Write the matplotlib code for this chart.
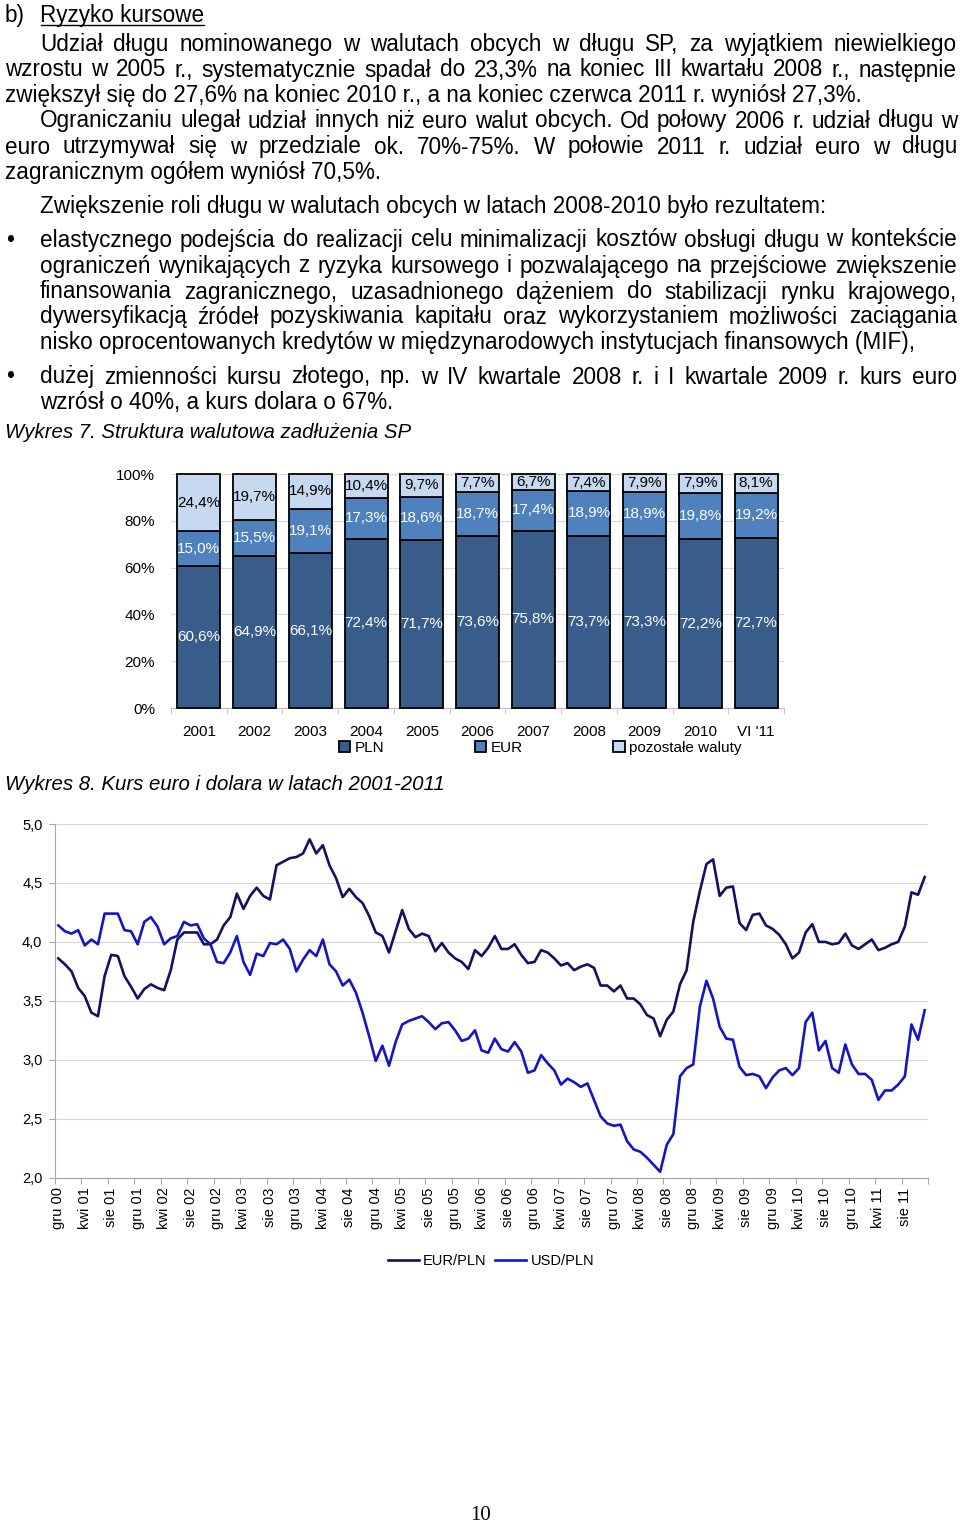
import matplotlib
matplotlib.use('Agg')
import matplotlib.pyplot as plt
from matplotlib.lines import Line2D
import numpy as np

# ---------------- DATA ----------------
heading_label = "b)"
heading_title = "Ryzyko kursowe"
body_lines = [
    "Udział długu nominowanego w walutach obcych w długu SP, za wyjątkiem niewielkiego",
    "wzrostu w 2005 r., systematycznie spadał do 23,3% na koniec III kwartału 2008 r., następnie",
    "zwiększył się do 27,6% na koniec 2010 r., a na koniec czerwca 2011 r. wyniósł 27,3%.",
    "Ograniczaniu ulegał udział innych niż euro walut obcych. Od połowy 2006 r. udział długu w",
    "euro utrzymywał się w przedziale ok. 70%-75%. W połowie 2011 r. udział euro w długu",
    "zagranicznym ogółem wyniósł 70,5%.",
    "Zwiększenie roli długu w walutach obcych w latach 2008-2010 było rezultatem:",
    "elastycznego podejścia do realizacji celu minimalizacji kosztów obsługi długu w kontekście",
    "ograniczeń wynikających z ryzyka kursowego i pozwalającego na przejściowe zwiększenie",
    "finansowania zagranicznego, uzasadnionego dążeniem do stabilizacji rynku krajowego,",
    "dywersyfikacją źródeł pozyskiwania kapitału oraz wykorzystaniem możliwości zaciągania",
    "nisko oprocentowanych kredytów w międzynarodowych instytucjach finansowych (MIF),",
    "dużej zmienności kursu złotego, np. w IV kwartale 2008 r. i I kwartale 2009 r. kurs euro",
    "wzrósł o 40%, a kurs dolara o 67%.",
]
caption7 = "Wykres 7. Struktura walutowa zadłużenia SP"
caption8 = "Wykres 8. Kurs euro i dolara w latach 2001-2011"
page_number = "10"

years = ["2001", "2002", "2003", "2004", "2005", "2006", "2007", "2008", "2009", "2010", "VI '11"]
pln = [60.6, 64.9, 66.1, 72.4, 71.7, 73.6, 75.8, 73.7, 73.3, 72.2, 72.7]
eur_share = [15.0, 15.5, 19.1, 17.3, 18.6, 18.7, 17.4, 18.9, 18.9, 19.8, 19.2]
other_share = [24.4, 19.7, 14.9, 10.4, 9.7, 7.7, 6.7, 7.4, 7.9, 7.9, 8.1]
bar_series_names = ["PLN", "EUR", "pozostałe waluty"]

eurpln = [3.86, 3.81, 3.75, 3.61, 3.54, 3.40, 3.37, 3.71, 3.89, 3.88,
          3.71, 3.62, 3.52, 3.60, 3.64, 3.61, 3.59, 3.76, 4.02, 4.08,
          4.08, 4.08, 3.98, 3.98, 4.02, 4.14, 4.21, 4.41, 4.28, 4.39,
          4.46, 4.39, 4.36, 4.65, 4.68, 4.71, 4.72, 4.75, 4.87, 4.75,
          4.82, 4.65, 4.54, 4.38, 4.45, 4.38, 4.33, 4.22, 4.08, 4.05,
          3.91, 4.09, 4.27, 4.11, 4.04, 4.07, 4.05, 3.92, 3.99, 3.91,
          3.86, 3.83, 3.77, 3.93, 3.88, 3.95, 4.05, 3.94, 3.94, 3.98,
          3.89, 3.82, 3.83, 3.93, 3.91, 3.86, 3.80, 3.82, 3.76, 3.79,
          3.81, 3.78, 3.63, 3.63, 3.58, 3.63, 3.52, 3.52, 3.47, 3.38,
          3.35, 3.20, 3.34, 3.41, 3.64, 3.76, 4.17, 4.43, 4.66, 4.70,
          4.39, 4.46, 4.47, 4.16, 4.10, 4.23, 4.24, 4.14, 4.11, 4.06,
          3.98, 3.86, 3.91, 4.08, 4.15, 4.00, 4.00, 3.98, 3.99, 4.07,
          3.97, 3.94, 3.98, 4.02, 3.93, 3.95, 3.98, 4.00, 4.13, 4.42,
          4.40, 4.55]
usdpln = [4.14, 4.09, 4.07, 4.10, 3.97, 4.02, 3.98, 4.24, 4.24, 4.24,
          4.10, 4.09, 3.98, 4.17, 4.21, 4.13, 3.98, 4.03, 4.05, 4.17,
          4.14, 4.15, 4.03, 3.98, 3.83, 3.82, 3.91, 4.05, 3.83, 3.72,
          3.90, 3.88, 3.99, 3.98, 4.02, 3.94, 3.75, 3.85, 3.93, 3.88,
          4.02, 3.81, 3.75, 3.63, 3.68, 3.57, 3.40, 3.20, 2.99, 3.12,
          2.95, 3.15, 3.30, 3.33, 3.35, 3.37, 3.32, 3.26, 3.31, 3.32,
          3.25, 3.16, 3.18, 3.25, 3.08, 3.06, 3.18, 3.09, 3.07, 3.15,
          3.07, 2.89, 2.91, 3.04, 2.97, 2.91, 2.79, 2.84, 2.81, 2.77,
          2.80, 2.66, 2.52, 2.46, 2.44, 2.45, 2.31, 2.24, 2.22, 2.17,
          2.11, 2.05, 2.28, 2.37, 2.86, 2.93, 2.96, 3.45, 3.67, 3.52,
          3.28, 3.18, 3.17, 2.94, 2.87, 2.88, 2.86, 2.76, 2.85, 2.91,
          2.93, 2.87, 2.93, 3.32, 3.40, 3.08, 3.16, 2.93, 2.89, 3.13,
          2.96, 2.88, 2.88, 2.83, 2.66, 2.74, 2.74, 2.79, 2.86, 3.30,
          3.17, 3.42]
month_labels = ["gru 00", "kwi 01", "sie 01", "gru 01", "kwi 02", "sie 02", "gru 02",
                "kwi 03", "sie 03", "gru 03", "kwi 04", "sie 04", "gru 04", "kwi 05",
                "sie 05", "gru 05", "kwi 06", "sie 06", "gru 06", "kwi 07", "sie 07",
                "gru 07", "kwi 08", "sie 08", "gru 08", "kwi 09", "sie 09", "gru 09",
                "kwi 10", "sie 10", "gru 10", "kwi 11", "sie 11"]
line_series_names = ["EUR/PLN", "USD/PLN"]

# ---------------- LAYOUT ----------------
W, H = 960, 1524
BODY = ['Liberation Sans', 'DejaVu Sans']
plt.rcParams['font.family'] = BODY

fig = plt.figure(figsize=(W / 100, H / 100), dpi=100)
fig.patch.set_facecolor('white')
renderer = fig.canvas.get_renderer()


def fx(x):
    return x / W


def fy(y):
    return 1 - y / H


def width_px(s, size, style='normal'):
    t = fig.text(0, 0, s, fontsize=size, style=style)
    w = t.get_window_extent(renderer).width
    t.remove()
    return w


# body font size fitted to the left-aligned line width
BODY_SIZE = 15 * 857 / width_px(body_lines[2], 15)
CAP_SIZE = BODY_SIZE * 0.906

# (x start, baseline, justify)
line_layout = [
    (40, 51, True), (5, 76.5, True), (5, 102, False),
    (40, 127.5, True), (5, 153.5, True), (5, 179, False),
    (40, 212.5, False),
    (40, 246.5, True), (40, 272.5, True), (40, 298.5, True), (40, 323.5, True), (40, 349.5, False),
    (40, 383.5, True), (40, 408.5, False),
]
bullet_rows = [246.5, 383.5]
RIGHT = 957


def put_line(s, x0, yb, size, justify, style='normal'):
    if not justify:
        fig.text(fx(x0), fy(yb), s, fontsize=size, style=style, va='baseline', ha='left')
        return
    words = s.split()
    ws = [width_px(w, size, style) for w in words]
    gap = (RIGHT - x0 - sum(ws)) / (len(words) - 1)
    x = x0
    for w, wd in zip(words, ws):
        fig.text(fx(x), fy(yb), w, fontsize=size, style=style, va='baseline', ha='left')
        x += wd + gap


# heading
fig.text(fx(5), fy(22), heading_label, fontsize=BODY_SIZE, va='baseline', ha='left')
fig.text(fx(40), fy(22), heading_title, fontsize=BODY_SIZE, va='baseline', ha='left')
tw = width_px(heading_title, BODY_SIZE)
fig.add_artist(Line2D([fx(41), fx(40 + tw)], [fy(25), fy(25)], color='black', lw=1.0))

for s, (x0, yb, just) in zip(body_lines, line_layout):
    put_line(s, x0, yb, BODY_SIZE, just)
for yb in bullet_rows:
    fig.text(fx(10), fy(yb), "\u2022", fontsize=BODY_SIZE, va='baseline', ha='center')

fig.text(fx(5), fy(438), caption7, fontsize=CAP_SIZE, style='italic', va='baseline', ha='left')
fig.text(fx(5), fy(790), caption8, fontsize=CAP_SIZE, style='italic', va='baseline', ha='left')
fig.text(fx(481), fy(1515), page_number, fontsize=15, family=['Liberation Serif', 'DejaVu Serif'],
         va='center', ha='center')

# ---------------- BAR CHART ----------------
C_PLN, C_EUR, C_OTH = '#385D8A', '#4F81BD', '#C6D9F1'
CH_FS = 11
ax1 = fig.add_axes([fx(171), fy(708), (784 - 171) / W, (708 - 474) / H])
xb = np.arange(len(years))
bw = 0.77
pln_a = np.array(pln)
eur_a = np.array(eur_share)
oth_a = np.array(other_share)
b1 = ax1.bar(xb, pln_a, bw, color=C_PLN, edgecolor='black', lw=1.3, label=bar_series_names[0], clip_on=False, zorder=3)
b2 = ax1.bar(xb, eur_a, bw, bottom=pln_a, color=C_EUR, edgecolor='black', lw=1.3, label=bar_series_names[1], clip_on=False, zorder=3)
b3 = ax1.bar(xb, oth_a, bw, bottom=pln_a + eur_a, color=C_OTH, edgecolor='black', lw=1.3, label=bar_series_names[2], clip_on=False, zorder=3)


def pct(v):
    return f"{v:.1f}".replace('.', ',') + '%'


for bars, vals, col in ((b1, pln, 'white'), (b2, eur_share, 'white'), (b3, other_share, 'black')):
    ax1.bar_label(bars, labels=[pct(v) for v in vals], label_type='center', color=col,
                  fontsize=CH_FS, zorder=4)

ax1.set_xlim(-0.5, len(years) - 0.5)
ax1.set_ylim(0, 100)
ax1.set_yticks(np.arange(0, 101, 20))
ax1.set_yticklabels([f"{v}%" for v in range(0, 101, 20)], fontsize=CH_FS)
ax1.set_xticks(xb)
ax1.set_xticklabels(years, fontsize=CH_FS)
ax1.set_xticks(np.arange(-0.5, len(years), 1), minor=True)
ax1.tick_params(axis='x', which='major', length=0, pad=12)
ax1.tick_params(axis='x', which='minor', length=4, color='#BFBFBF')
ax1.tick_params(axis='y', length=0, pad=11.5)
ax1.yaxis.grid(True, color='#D9D9D9', lw=0.9)
ax1.set_axisbelow(True)
for sp in ('top', 'right', 'left'):
    ax1.spines[sp].set_visible(False)
ax1.spines['bottom'].set_color('#BFBFBF')
ax1.set_facecolor('white')

fig.legend(handles=[b1, b2, b3], labels=bar_series_names, loc='center left',
           bbox_to_anchor=(fx(339), fy(748)), ncol=3, frameon=False,
           prop={'size': CH_FS}, handlelength=0.75, handleheight=0.75,
           handletextpad=0.3, columnspacing=5.9, borderpad=0, borderaxespad=0)

# ---------------- LINE CHART ----------------
ax2 = fig.add_axes([fx(55), fy(1177.7), (928 - 55) / W, (1177.7 - 824) / H])
xi = np.arange(len(eurpln))
l1, = ax2.plot(xi, eurpln, color='#12125E', lw=1.9, label=line_series_names[0])
l2, = ax2.plot(xi, usdpln, color='#1515C4', lw=1.9, label=line_series_names[1])
ax2.set_xlim(-0.5, len(eurpln) - 0.5)
ax2.set_ylim(2, 5)
yt = np.arange(2.0, 5.01, 0.5)
ax2.set_yticks(yt)
ax2.set_yticklabels([f"{v:.1f}".replace('.', ',') for v in yt], fontsize=10.5)
ax2.yaxis.grid(True, color='#D9D9D9', lw=0.9)
ax2.set_axisbelow(True)
ax2.set_xticks(np.arange(-0.5, len(eurpln), 4))
ax2.set_xticklabels([])
ax2.set_xticks(np.arange(0, len(eurpln), 4), minor=True)
ax2.set_xticklabels(month_labels, minor=True, rotation=90, fontsize=10.5)
ax2.tick_params(axis='x', which='major', length=4, color='#A6A6A6')
ax2.tick_params(axis='x', which='minor', length=0, pad=7)
ax2.tick_params(axis='y', length=4, color='#A6A6A6', pad=5)
for sp in ('top', 'right'):
    ax2.spines[sp].set_visible(False)
for sp in ('left', 'bottom'):
    ax2.spines[sp].set_color('#A6A6A6')

fig.legend(handles=[l1, l2], labels=line_series_names, loc='center',
           bbox_to_anchor=(fx(491), fy(1261)), ncol=2, frameon=False,
           prop={'size': 10.5}, handlelength=2.1, handletextpad=0.3,
           columnspacing=0.6, borderpad=0, borderaxespad=0)

fig.savefig('out.png', dpi=100, facecolor='white')
